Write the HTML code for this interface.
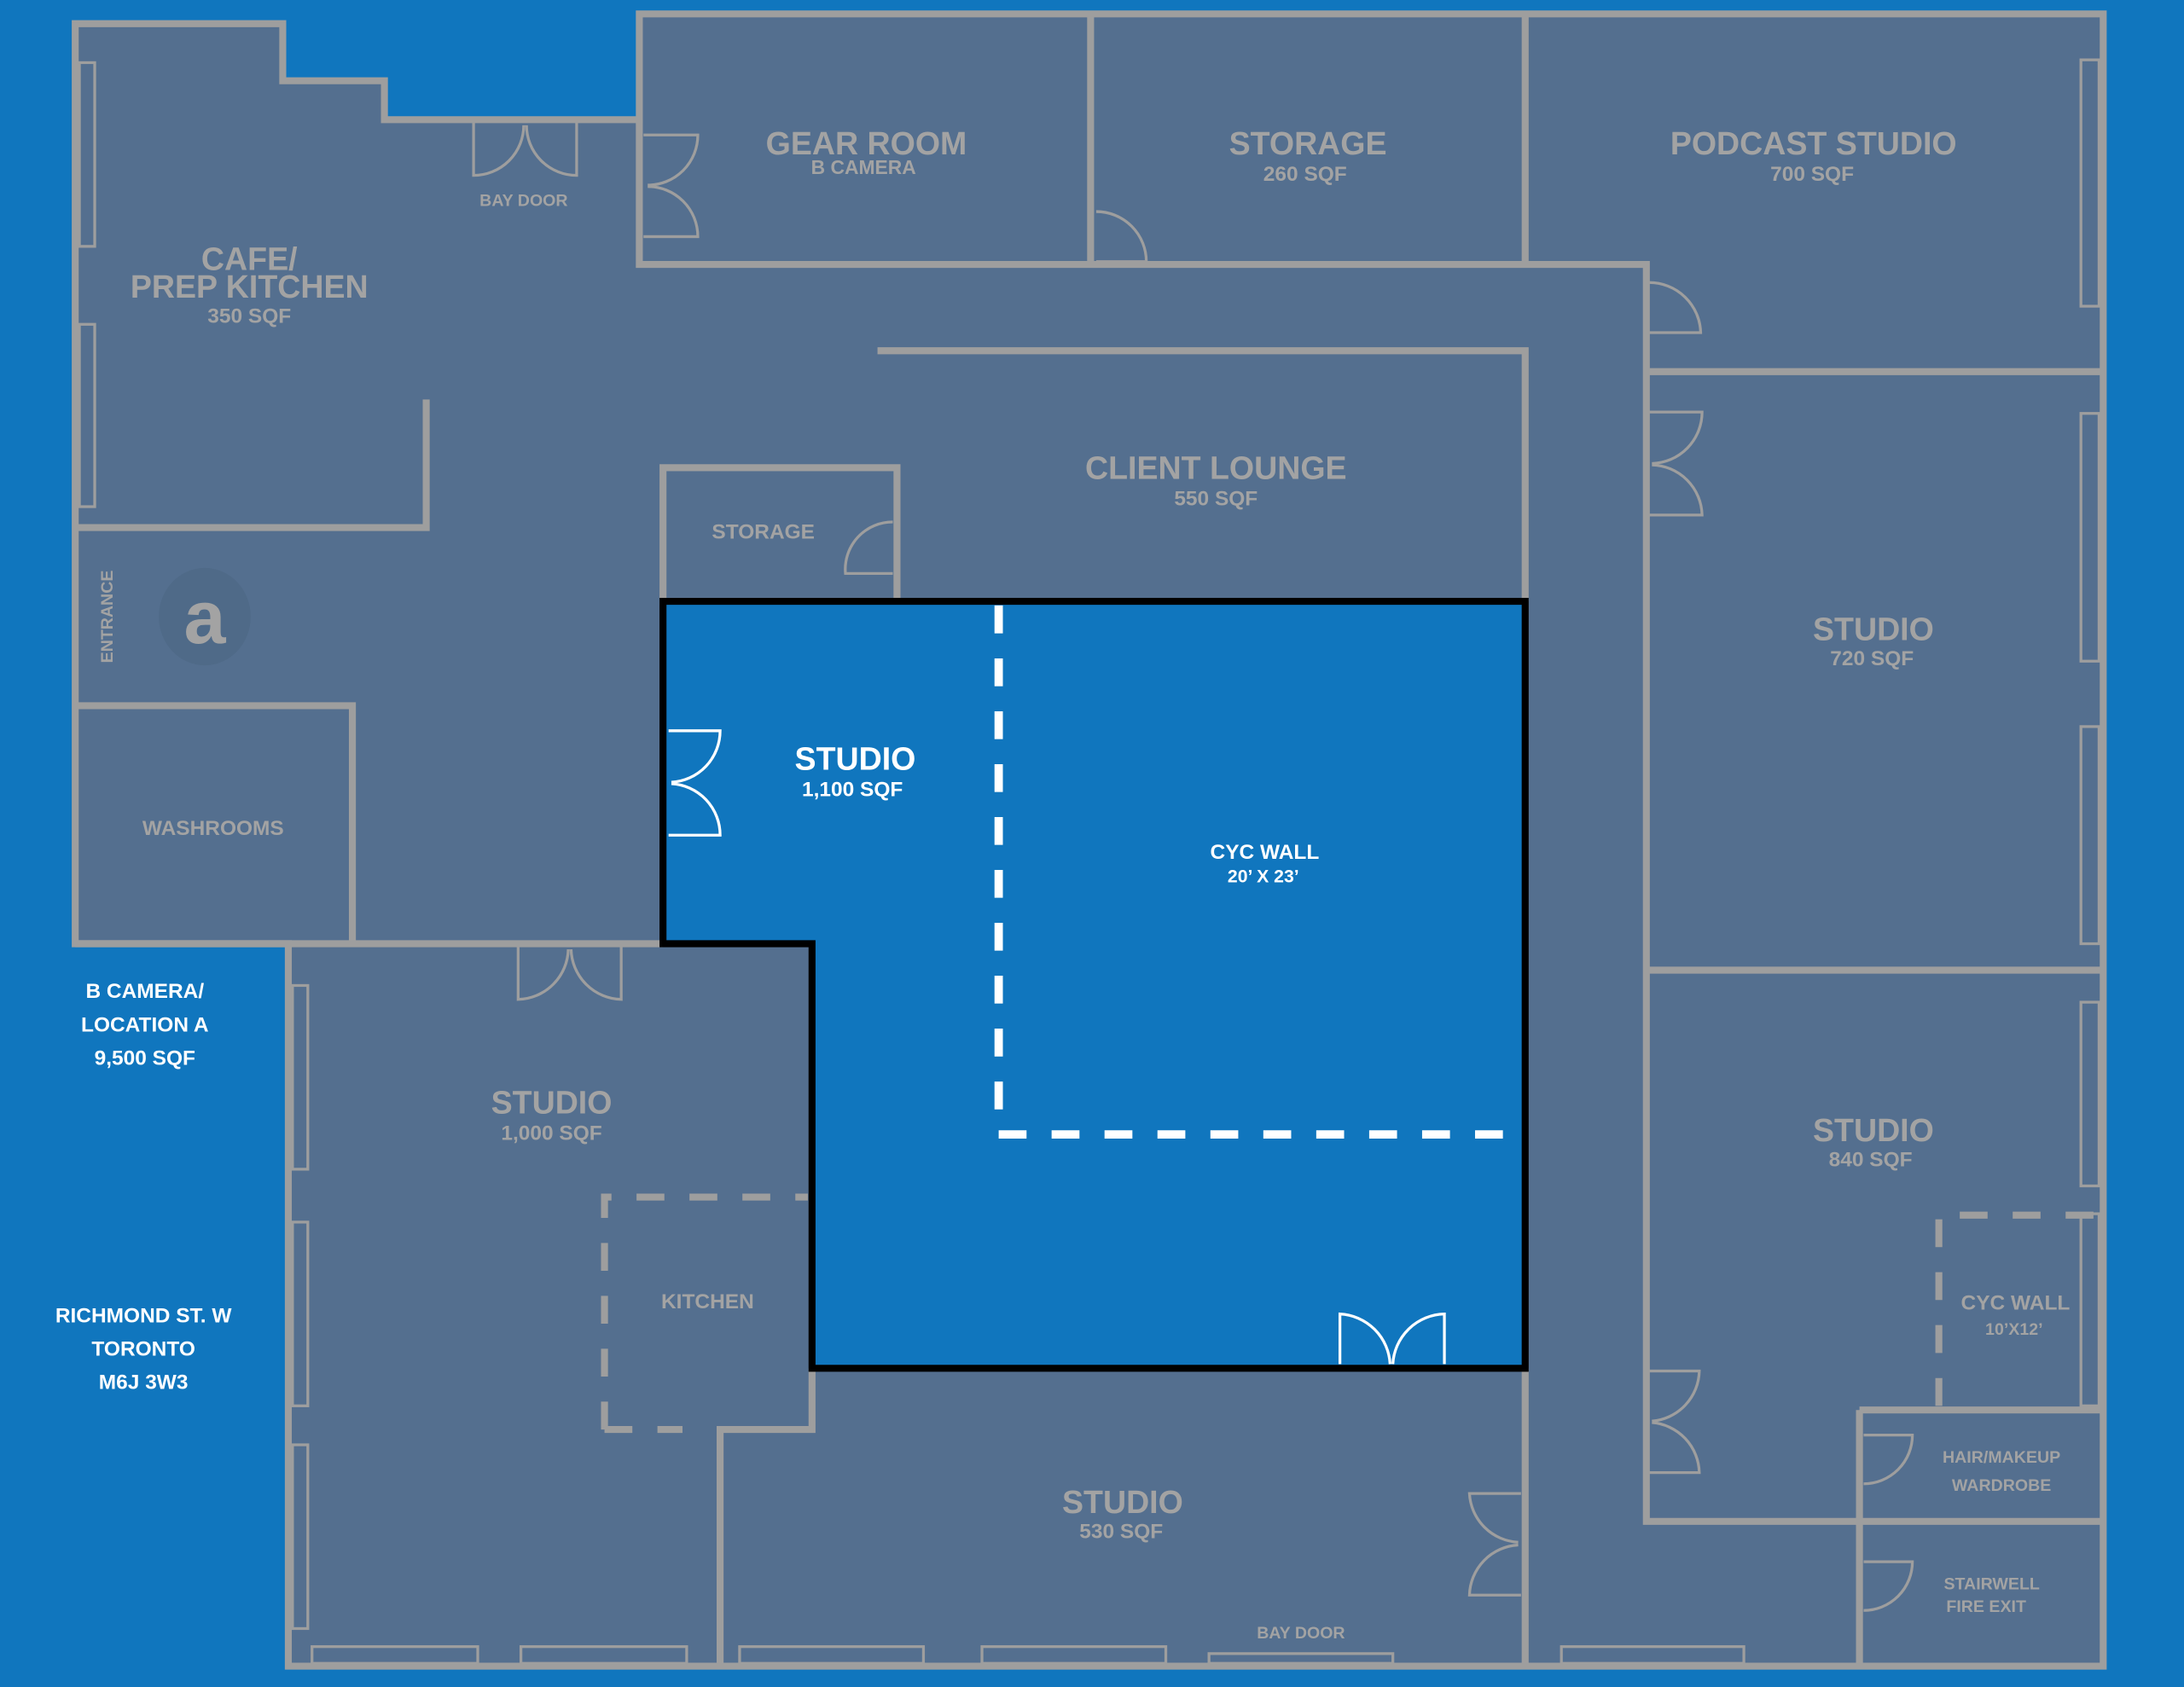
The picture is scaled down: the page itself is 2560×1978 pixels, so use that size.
<!DOCTYPE html>
<html><head><meta charset="utf-8"><style>
html,body{margin:0;padding:0;background:#1076be;}
svg{display:block}
text{font-family:"Liberation Sans",sans-serif;font-weight:bold;text-anchor:middle}
.g{fill:#a3a3a3}.w{fill:#fff}
</style></head><body>
<svg width="2560" height="1978" viewBox="0 0 1568 1212" preserveAspectRatio="none" xmlns="http://www.w3.org/2000/svg">
<rect width="1568" height="1212" fill="#1076be"/>
<polygon points="54,17 203,17 203,58 276,58 276,86 459,86 459,10 1510,10 1510,1197 207,1197 207,678 54,678" fill="#546f8f" stroke="#9e9e9e" stroke-width="5"/>
<g fill="none" stroke="#9e9e9e" stroke-width="5">
<path d="M459,86 V190 H1182 V1095 M783,10 V190 M1095,10 V190 M1182,267 H1510 M1182,697 H1510 M1182,697 V1093 H1510 M1335,1013 V1197 M1335,1013 H1510 M630,252 H1095 V432 M306,287 V379 H54 M54,507 H253 V678 M54,678 H476 M583,983 V1027 H517 V1197 M1095,983 V1197"/>
<rect x="476" y="336" width="168" height="96"/>
</g>
<polygon points="476,432 1095,432 1095,983 583,983 583,678 476,678" fill="#1076be" stroke="#000" stroke-width="5"/>
<g fill="none" stroke="#fff" stroke-width="6" stroke-dasharray="20,18">
<path d="M717,435 V815 H1092"/>
</g>
<g fill="none" stroke="#9e9e9e" stroke-width="5" stroke-dasharray="20,18">
<path d="M434,1027 V860 H580"/><path d="M434,1027 H490"/>
<path d="M1392,1010 V873 H1507"/>
</g>
<g fill="none" stroke="#9e9e9e" stroke-width="2">
<rect x="57" y="45" width="11" height="132"/><rect x="57" y="233" width="11" height="131"/>
<rect x="1494" y="43" width="13" height="177"/><rect x="1494" y="297" width="13" height="178"/><rect x="1494" y="522" width="13" height="156"/><rect x="1494" y="720" width="13" height="132"/><rect x="1494" y="872" width="13" height="138"/>
<rect x="210" y="708" width="11" height="132"/><rect x="210" y="878" width="11" height="132"/><rect x="210" y="1038" width="11" height="132"/>
<rect x="224" y="1183" width="119" height="12"/><rect x="374" y="1183" width="119" height="12"/><rect x="531" y="1183" width="132" height="12"/><rect x="705" y="1183" width="132" height="12"/><rect x="868" y="1188" width="132" height="7"/><rect x="1121" y="1183" width="131" height="12"/>
<path d="M340,88 V126 A36,36 0 0 0 376,90 M414,88 V126 A36,36 0 0 1 378,90"/>
<path d="M462,97 H501 A36,36 0 0 1 465,133 M462,170 H501 A36,36 0 0 0 465,134"/>
<path d="M787,152 A36,36 0 0 1 823,188 H787"/>
<path d="M1184,203 A37,37 0 0 1 1221,239 H1184"/>
<path d="M1184,296 H1222 A37,37 0 0 1 1186,333 M1184,370 H1222 A37,37 0 0 0 1186,334"/>
<path d="M641,375 A34,34 0 0 0 607,412 H641"/>
<path d="M372,680 V718 A37,37 0 0 0 408,682 M446,680 V718 A37,37 0 0 1 410,682"/>
<path d="M1092,1073 H1055 A37,37 0 0 0 1090,1108 M1092,1146 H1055 A37,37 0 0 1 1090,1110"/>
<path d="M1184,985 H1220 A37,37 0 0 1 1186,1021 M1184,1058 H1220 A37,37 0 0 0 1186,1022"/>
<path d="M1338,1031 H1373 A35,35 0 0 1 1338,1066 M1338,1122 H1373 A35,35 0 0 1 1338,1157"/>
</g>
<g fill="none" stroke="#fff" stroke-width="2">
<path d="M480,525 H517 A37,37 0 0 1 482,562 M480,600 H517 A37,37 0 0 0 482,563"/>
<path d="M962,980 V944 A38,38 0 0 1 998,980 M1037,980 V944 A38,38 0 0 0 1000,980"/>
</g>
<ellipse cx="147" cy="443" rx="33" ry="35" fill="#4f6a88"/>
<text x="147" y="462" class="g" style="font-size:54px;font-weight:bold">a</text>
<text x="622" y="111" class="g" font-size="23">GEAR ROOM</text>
<text x="620" y="125" class="g" font-size="14">B CAMERA</text>
<text x="939" y="111" class="g" font-size="23">STORAGE</text>
<text x="937" y="130" class="g" font-size="15">260 SQF</text>
<text x="1302" y="111" class="g" font-size="23">PODCAST STUDIO</text>
<text x="1301" y="130" class="g" font-size="15">700 SQF</text>
<text x="179" y="194" class="g" font-size="23">CAFE/</text>
<text x="179" y="214" class="g" font-size="23">PREP KITCHEN</text>
<text x="179" y="232" class="g" font-size="15">350 SQF</text>
<text x="376" y="148" class="g" font-size="12">BAY DOOR</text>
<text x="873" y="344" class="g" font-size="23">CLIENT LOUNGE</text>
<text x="873" y="363" class="g" font-size="15">550 SQF</text>
<text x="548" y="387" class="g" font-size="15">STORAGE</text>
<text x="0" y="0" class="g" font-size="12" transform="translate(81,443) rotate(-90)">ENTRANCE</text>
<text x="614" y="553" class="w" font-size="23">STUDIO</text>
<text x="612" y="572" class="w" font-size="15">1,100 SQF</text>
<text x="908" y="617" class="w" font-size="15">CYC WALL</text>
<text x="907" y="634" class="w" font-size="13">20’ X 23’</text>
<text x="1345" y="460" class="g" font-size="23">STUDIO</text>
<text x="1344" y="478" class="g" font-size="15">720 SQF</text>
<text x="153" y="600" class="g" font-size="15">WASHROOMS</text>
<text x="104" y="717" class="w" font-size="15">B CAMERA/</text>
<text x="104" y="741" class="w" font-size="15">LOCATION A</text>
<text x="104" y="765" class="w" font-size="15">9,500 SQF</text>
<text x="396" y="800" class="g" font-size="23">STUDIO</text>
<text x="396" y="819" class="g" font-size="15">1,000 SQF</text>
<text x="508" y="940" class="g" font-size="15">KITCHEN</text>
<text x="103" y="950" class="w" font-size="15">RICHMOND ST. W</text>
<text x="103" y="974" class="w" font-size="15">TORONTO</text>
<text x="103" y="998" class="w" font-size="15">M6J 3W3</text>
<text x="1345" y="820" class="g" font-size="23">STUDIO</text>
<text x="1343" y="838" class="g" font-size="15">840 SQF</text>
<text x="1447" y="941" class="g" font-size="15">CYC WALL</text>
<text x="1446" y="959" class="g" font-size="12">10’X12’</text>
<text x="1437" y="1051" class="g" font-size="12">HAIR/MAKEUP</text>
<text x="1437" y="1071" class="g" font-size="12">WARDROBE</text>
<text x="806" y="1087" class="g" font-size="23">STUDIO</text>
<text x="805" y="1105" class="g" font-size="15">530 SQF</text>
<text x="934" y="1177" class="g" font-size="12">BAY DOOR</text>
<text x="1430" y="1142" class="g" font-size="12">STAIRWELL</text>
<text x="1426" y="1158" class="g" font-size="12">FIRE EXIT</text>
</svg>
</body></html>
